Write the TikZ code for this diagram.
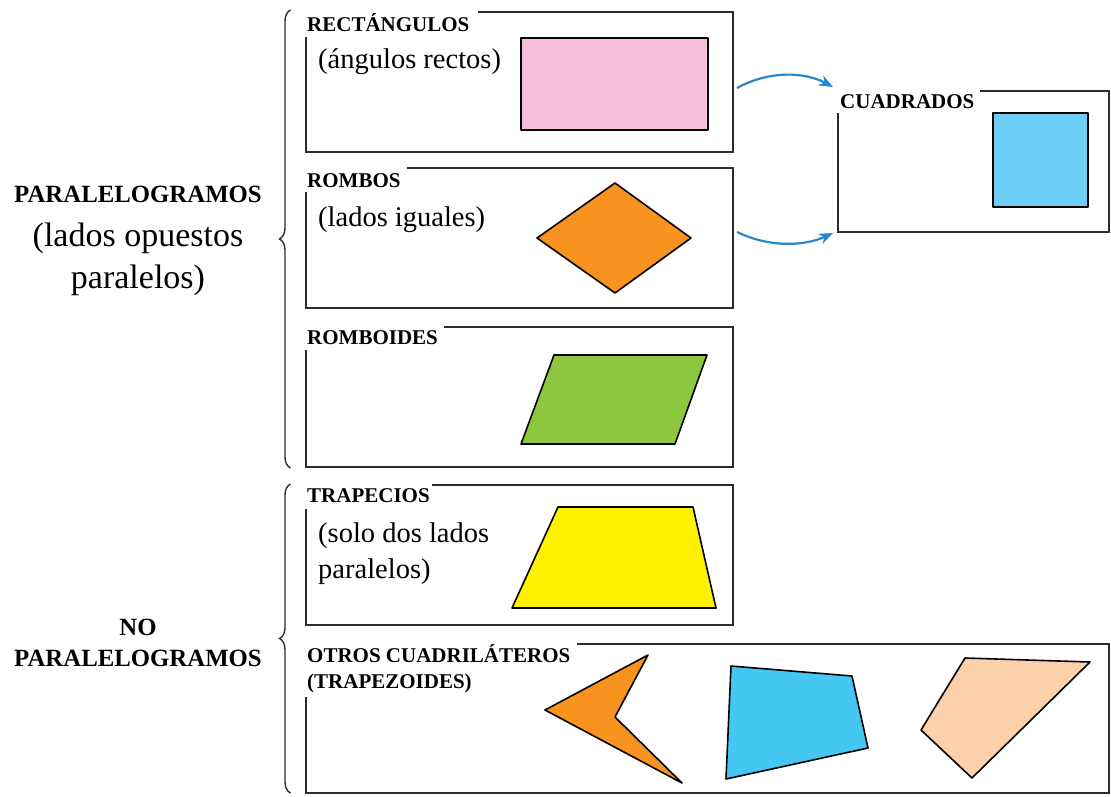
\documentclass[tikz,border=0pt]{standalone}
\usepackage{fontspec}
\setmainfont{Liberation Serif}
\usetikzlibrary{decorations.pathreplacing,arrows.meta}
\definecolor{boxgray}{RGB}{45,45,45}
\definecolor{arrowblue}{RGB}{40,135,205}
\definecolor{pinkfill}{RGB}{247,191,217}
\definecolor{orangefill}{RGB}{247,147,30}
\definecolor{greenfill}{RGB}{141,198,63}
\definecolor{yellowfill}{RGB}{255,242,0}
\definecolor{sqblue}{RGB}{109,207,246}
\definecolor{quadblue}{RGB}{68,200,242}
\definecolor{peachfill}{RGB}{253,208,172}
\begin{document}
\begin{tikzpicture}[x=1pt,y=-1pt,
  boxline/.style={draw=boxgray, line width=2.2pt},
  ttl/.style={font=\fontsize{21}{24}\selectfont\bfseries, inner sep=0pt, anchor=base west},
  body/.style={font=\fontsize{28.5}{34}\selectfont, inner sep=0pt, anchor=base west},
  lbold/.style={font=\fontsize{24.8}{28}\selectfont\bfseries, inner sep=0pt, anchor=base},
  lbody/.style={font=\fontsize{34}{40}\selectfont, inner sep=0pt, anchor=base},
  shapeline/.style={draw=black, line width=1.6pt, line join=round},
  arr/.style={draw=arrowblue, line width=2.2pt, -{Stealth[length=14pt,width=11pt]}},
  bracestyle/.style={draw=boxgray, line width=1.4pt, decorate, decoration={brace,amplitude=11pt}}
]
\useasboundingbox (0,0) rectangle (1111,796);

% left labels
\node[lbold] (p1) at (138,202) {PARALELOGRAMOS};
\node[lbody] (p2) at (138,246) {(lados opuestos};
\node[lbody] (p3) at (138,288) {paralelos)};
\node[lbold] (n1) at (138,635) {NO};
\node[lbold] (n2) at (138,666) {PARALELOGRAMOS};

% braces
\draw[bracestyle] (290.5,468) -- (290.5,10);
\draw[bracestyle] (290.5,793) -- (290.5,484);

% Box 1: rectangulos
\node[ttl] (t1) at (307,31) {RECTÁNGULOS};
\node[body] (b1) at (318,68) {(ángulos rectos)};
\draw[boxline] (478,12) -- (733,12) -- (733,152) -- (306,152) -- (306,37);
\filldraw[shapeline, fill=pinkfill] (521,38) rectangle (708,130);

% Box 2: rombos
\node[ttl] (t2) at (307,187) {ROMBOS};
\node[body] (b2) at (318,226) {(lados iguales)};
\draw[boxline] (407,168) -- (733,168) -- (733,308) -- (306,308) -- (306,192);
\filldraw[shapeline, fill=orangefill] (537,238) -- (615,183) -- (691,238) -- (615,293) -- cycle;

% Box 3: romboides
\node[ttl] (t3) at (307,344) {ROMBOIDES};
\draw[boxline] (444,327) -- (733,327) -- (733,467) -- (306,467) -- (306,350);
\filldraw[shapeline, fill=greenfill] (521,444) -- (554,355) -- (707,355) -- (675,444) -- cycle;

% Box 4: trapecios
\node[ttl] (t4) at (307,502) {TRAPECIOS};
\node[body] (b4a) at (318,542) {(solo dos lados};
\node[body] (b4b) at (318,578) {paralelos)};
\draw[boxline] (432,485) -- (733,485) -- (733,625) -- (306,625) -- (306,509);
\filldraw[shapeline, fill=yellowfill] (512,608) -- (558,507) -- (693,507) -- (716,608) -- cycle;

% Box 5: otros
\node[ttl] (t5a) at (307,662) {OTROS CUADRILÁTEROS};
\node[ttl] (t5b) at (307,688) {(TRAPEZOIDES)};
\draw[boxline] (577,644) -- (1109,644) -- (1109,793) -- (306,793) -- (306,697);
\filldraw[shapeline, fill=orangefill] (545,710) -- (648,655) -- (615,717) -- (682,783) -- cycle;
\filldraw[shapeline, fill=quadblue] (731,666) -- (852,676) -- (868,748) -- (726,779) -- cycle;
\filldraw[shapeline, fill=peachfill] (965,658) -- (1090,662) -- (972,778) -- (921,730) -- cycle;

% Cuadrados
\node[ttl] (t6) at (840,108) {CUADRADOS};
\draw[boxline] (980,91) -- (1109,91) -- (1109,232) -- (838,232) -- (838,113);
\filldraw[shapeline, fill=sqblue] (993,113) rectangle (1088,207);

% arrows
\coordinate (a1s) at (737,88);
\coordinate (a1e) at (833,87);
\coordinate (a2s) at (737,232);
\coordinate (a2e) at (833,233);
\draw[arr] (a1s) .. controls (770,70) and (805,72) .. (a1e);
\draw[arr] (a2s) .. controls (770,248) and (805,246) .. (a2e);
\end{tikzpicture}
\end{document}
